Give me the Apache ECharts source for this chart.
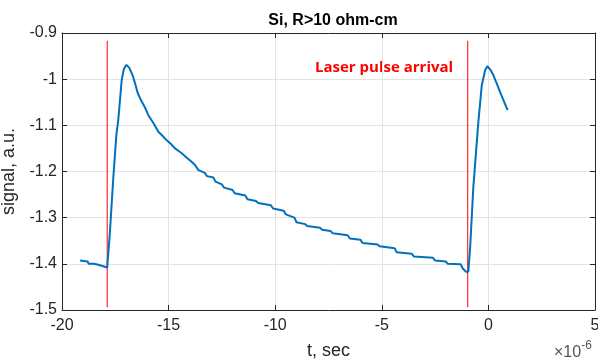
<!DOCTYPE html>
<html>
<head>
<meta charset="utf-8">
<script src="https://cdn.jsdelivr.net/npm/echarts@6/dist/echarts.min.js"></script>
<style>
html,body{margin:0;padding:0;background:#fff;}
#chart{width:598px;height:363px;}
</style>
</head>
<body>
<div id="chart"></div>
<script>
// time in units of 1e-6 s
const tValues = [-19.15,-18.8,-18.75,-18.5,-18.45,-18.3,-18.25,-17.88,-17.75,-17.6,-17.45,-17.36,-17.2,-17.1,-16.98,-16.85,-16.7,-16.58,-16.45,-16.3,-16.1,-15.95,-15.7,-15.48,-15.3,-15.1,-14.9,-14.7,-14.4,-14.2,-13.95,-13.76,-13.6,-13.3,-13.2,-12.9,-12.8,-12.5,-12.4,-12.0,-11.9,-11.4,-11.3,-10.9,-10.8,-10.2,-10.1,-9.6,-9.5,-9.1,-9.0,-8.6,-8.5,-7.9,-7.8,-7.4,-7.3,-6.6,-6.5,-6.0,-5.9,-5.2,-5.1,-4.4,-4.3,-3.6,-3.5,-2.6,-2.5,-2.0,-1.9,-1.3,-1.2,-1.05,-0.94,-0.85,-0.71,-0.47,-0.31,-0.15,-0.05,0.1,0.23,0.4,0.54,0.7,0.9];
const signalValues = [-1.393,-1.395,-1.400,-1.400,-1.404,-1.402,-1.406,-1.408,-1.33,-1.218,-1.12,-1.088,-1.002,-0.978,-0.969,-0.975,-0.990,-1.008,-1.030,-1.045,-1.062,-1.078,-1.096,-1.114,-1.122,-1.132,-1.140,-1.150,-1.160,-1.168,-1.178,-1.186,-1.197,-1.203,-1.210,-1.213,-1.222,-1.228,-1.235,-1.240,-1.247,-1.252,-1.260,-1.264,-1.268,-1.273,-1.280,-1.285,-1.293,-1.300,-1.310,-1.314,-1.318,-1.322,-1.326,-1.329,-1.334,-1.338,-1.345,-1.348,-1.355,-1.358,-1.362,-1.366,-1.375,-1.378,-1.384,-1.387,-1.393,-1.395,-1.400,-1.401,-1.410,-1.417,-1.417,-1.36,-1.236,-1.092,-1.013,-0.980,-0.972,-0.980,-0.991,-1.010,-1.027,-1.045,-1.067];
const pulseTimes = [-17.88, -0.97];
const pulseTop = -0.917;
const pulseBottom = -1.494;
const xTicks = [-20, -15, -10, -5, 0, 5];
const yTicks = [-1.5, -1.4, -1.3, -1.2, -1.1, -1, -0.9];

const font = '"Liberation Sans", Arial, sans-serif';
const axisCol = '#262626';
const chart = echarts.init(document.getElementById('chart'));

const signalData = tValues.map((t, i) => [t, signalValues[i]]);
const pulseSeries = pulseTimes.map(t => ({
  type: 'line', data: [[t, pulseTop], [t, pulseBottom]], symbol: 'none',
  lineStyle: {color: '#ff0000', width: 1}, silent: true, z: 3
}));

const baseX = {
  type: 'value', min: xTicks[0], max: xTicks[xTicks.length-1], interval: 5,
  axisLine: {onZero: false, lineStyle: {color: axisCol, width: 1}},
  axisTick: {inside: true, length: 5, lineStyle: {color: axisCol}},
  splitLine: {show: false}
};
const baseY = {
  type: 'value', min: yTicks[0], max: yTicks[yTicks.length-1], interval: 0.1,
  axisLine: {onZero: false, lineStyle: {color: axisCol, width: 1}},
  axisTick: {inside: true, length: 5, lineStyle: {color: axisCol}},
  splitLine: {show: false}
};

chart.setOption({
  animation: false,
  backgroundColor: '#fff',
  title: {
    text: 'Si, R>10 ohm-cm', left: 328, top: 8, textAlign: 'center',
    textStyle: {fontFamily: font, fontSize: 16, fontWeight: 'bold', color: '#000'}
  },
  grid: {left: 62, top: 33, right: 3, bottom: 53, containLabel: false, outerBoundsMode: 'none'},
  xAxis: [
    Object.assign({}, baseX, {
      position: 'bottom',
      name: 't, sec', nameLocation: 'middle', nameGap: 32,
      nameTextStyle: {fontFamily: font, fontSize: 18, color: axisCol},
      axisLabel: {fontFamily: font, fontSize: 16, color: axisCol, margin: 8},
      splitLine: {show: true, lineStyle: {color: '#e3e3e3', width: 1}}
    }),
    Object.assign({}, baseX, {position: 'top', axisLabel: {show: false}})
  ],
  yAxis: [
    Object.assign({}, baseY, {
      position: 'left',
      name: 'signal, a.u.', nameLocation: 'middle', nameGap: 34,
      nameTextStyle: {fontFamily: font, fontSize: 18, color: axisCol},
      axisLabel: {fontFamily: font, fontSize: 16, color: axisCol, margin: 5,
        formatter: v => String(Number(v.toFixed(1)))},
      splitLine: {show: true, lineStyle: {color: '#e3e3e3', width: 1}}
    }),
    Object.assign({}, baseY, {position: 'right', axisLabel: {show: false}})
  ],
  graphic: [
    {type: 'text', left: 315, top: 60, style: {
      text: 'Laser pulse arrival', fill: '#ff0000',
      font: 'bold 15px "Open Sans", sans-serif'}},
    {type: 'text', left: 554, top: 340, style: {
      text: '{a|×10}{b|-6}', rich: {
        a: {fontFamily: font, fontSize: 16, fill: '#555', verticalAlign: 'bottom'},
        b: {fontFamily: font, fontSize: 12, fill: '#555', verticalAlign: 'top', padding: [0,0,9,0]}
      }}}
  ],
  series: [
    {type: 'line', data: signalData, symbol: 'none',
     lineStyle: {color: '#0072BD', width: 2}, z: 4}
  ].concat(pulseSeries)
});
</script>
</body>
</html>
